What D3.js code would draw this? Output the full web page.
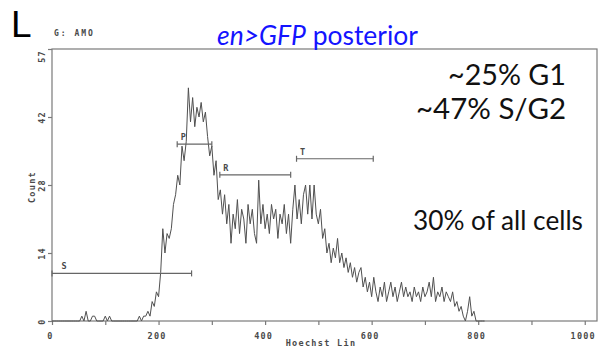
<!DOCTYPE html>
<html>
<head>
<meta charset="utf-8">
<script src="https://cdn.jsdelivr.net/npm/d3@7"></script>
<style>
  html, body { margin: 0; padding: 0; background: #fff; }
  svg { display: block; }
</style>
</head>
<body>
<svg id="chart" width="605" height="349"></svg>
<script>
// ---- Data ----
const binStart = 0;      // Hoechst Lin channel of first bin
const binWidth = 4;      // channels per bin
const counts = [
  0,0,0,0,0,0,0,0,0,0, 0,0,0,0,1,0,2,0,0,1,
  1,0,0,0,0,1,0,1,0,0, 0,0,0,0,0,0,0,0,0,0,
  0,1,0,1,1,2,1,4,3,6, 5,10,19,14,18,17,19,24,26,30,
  28,36,33,37,48,41,46,40,44,42, 45,41,43,38,34,36,30,33,25,27,
  22,26,20,24,16,22,19,25,18,23, 21,16,24,20,23,18,16,29,20,24,
  19,22,18,24,21,23,17,22,20,24, 18,22,16,23,28,21,25,20,26,28,
  22,28,21,28,22,20,23,17,19,14, 16,12,15,13,17,12,14,11,13,10,
  12,9,11,8,10,11,7,9,6,8, 5,9,6,4,7,5,8,4,6,8,
  5,7,4,6,8,5,7,5,6,4, 7,5,6,4,7,5,6,8,5,9,
  4,6,5,7,4,6,5,4,6,3, 4,2,3,1,0,2,5,1,2,0,
  0,0,0,0
];
const gateNames = ["S", "P", "R", "T"];
const gateStart = [0, 235, 315, 459];
const gateEnd   = [262, 300, 448, 603];
const gateLevel = [9.8, 36.4, 30.1, 33.4];
const xTicks = [0, 100, 200, 300, 400, 500, 600, 700, 800, 900, 1000];
const xLabelled = [0, 200, 400, 600, 800, 1000];
const yTicks = [0, 14, 28, 42, 57];
const panelLetter = "L";
const gateFile = "G: AMO";
const titleItalic = "en>GFP";
const titleRest = " posterior";
const statLines = ["~25% G1", "~47% S/G2"];
const noteText = "30% of all cells";
const xTitle = "Hoechst Lin";
const yTitle = "Count";

// ---- Layout ----
const svg = d3.select("#chart");
const L = 52, R = 597, T = 49, B = 321;
const x = d3.scaleLinear().domain([0, 1023]).range([L, R]);
const y = d3.scaleLinear().domain([0, 56]).range([B, T]).clamp(true);

const axisColor = "#7a7a7a";
const traceColor = "#505050";
const labelColor = "#4a4a4a";
const monoFont = "'DejaVu Sans Mono', monospace";

// frame
svg.append("rect")
  .attr("x", L).attr("y", T).attr("width", R - L).attr("height", B - T)
  .attr("fill", "none").attr("stroke", axisColor).attr("stroke-width", 1.2);

// x axis
const xAxis = d3.axisBottom(x).tickValues(xTicks).tickSize(4)
  .tickFormat(d => xLabelled.includes(d) ? d : "");
const gx = svg.append("g").attr("transform", `translate(0,${B})`).call(xAxis);
gx.select(".domain").remove();
gx.selectAll(".tick line").attr("stroke", axisColor).attr("stroke-width", 1.2);
gx.selectAll(".tick text")
  .attr("y", 11.5).attr("x", -2)
  .attr("fill", labelColor).attr("font-family", monoFont).attr("font-weight", "bold")
  .attr("font-size", 8.5).attr("letter-spacing", 1.2);

// y axis
const yAxis = d3.axisLeft(y).tickValues(yTicks).tickSize(4).tickFormat(d => d);
const gy = svg.append("g").attr("transform", `translate(${L},0)`).call(yAxis);
gy.select(".domain").remove();
gy.selectAll(".tick line").attr("stroke", axisColor).attr("stroke-width", 1.2);
gy.selectAll(".tick text")
  .attr("transform", "rotate(-90)")
  .attr("x", d => d === 57 ? -7 : 0).attr("y", -7).attr("dy", 0)
  .attr("text-anchor", "middle")
  .attr("fill", labelColor).attr("font-family", monoFont).attr("font-weight", "bold")
  .attr("font-size", 8.5).attr("letter-spacing", 1.2);

// axis titles
svg.append("text").text(xTitle)
  .attr("x", 321).attr("y", 346).attr("text-anchor", "middle")
  .attr("fill", labelColor).attr("font-family", monoFont).attr("font-weight", "bold")
  .attr("font-size", 8.5).attr("letter-spacing", 1.3);
svg.append("text").text(yTitle)
  .attr("transform", "translate(35,187) rotate(-90)").attr("text-anchor", "middle")
  .attr("fill", labelColor).attr("font-family", monoFont).attr("font-weight", "bold")
  .attr("font-size", 8.5).attr("letter-spacing", 1.3);

// histogram trace
const pts = counts.map((c, i) => [binStart + i * binWidth, c]);
svg.append("path").datum(pts)
  .attr("fill", "none").attr("stroke", traceColor).attr("stroke-width", 1)
  .attr("stroke-linejoin", "round")
  .attr("d", d3.line().x(d => x(d[0])).y(d => y(d[1])));

// gates
const gates = gateNames.map((n, i) => ({ n, a: gateStart[i], b: gateEnd[i], v: gateLevel[i] }));
const gg = svg.append("g").selectAll("g").data(gates).join("g");
gg.append("line")
  .attr("x1", d => x(d.a)).attr("x2", d => x(d.b))
  .attr("y1", d => y(d.v)).attr("y2", d => y(d.v))
  .attr("stroke", "#666").attr("stroke-width", 1.2);
gg.selectAll(".cap").data(d => [[d.a, d.v], [d.b, d.v]]).join("line")
  .attr("x1", d => x(d[0])).attr("x2", d => x(d[0]))
  .attr("y1", d => y(d[1]) - 3).attr("y2", d => y(d[1]) + 3)
  .attr("stroke", "#666").attr("stroke-width", 1.2);
gg.append("text").text(d => d.n)
  .attr("x", d => Math.max(x(d.a) + 6, x(0) + 12)).attr("y", d => y(d.v) - 4)
  .attr("text-anchor", "middle")
  .attr("fill", labelColor).attr("font-family", monoFont).attr("font-weight", "bold")
  .attr("font-size", 8.5);

// fit helper
function fit(sel, w) {
  const b = sel.node().getBBox().width;
  sel.attr("font-size", parseFloat(sel.attr("font-size")) * w / b);
}

// panel letter and file name
svg.append("text").text(panelLetter)
  .attr("x", 11).attr("y", 37)
  .attr("font-family", "'Liberation Sans', Arial, sans-serif").attr("font-size", 37)
  .attr("fill", "#000");
svg.append("text").text(gateFile)
  .attr("x", 54).attr("y", 36)
  .attr("fill", labelColor).attr("font-family", monoFont).attr("font-weight", "bold")
  .attr("font-size", 8).attr("letter-spacing", 2);

// title
const title = svg.append("text").attr("x", 217).attr("y", 44.5)
  .attr("fill", "#1414ff").attr("font-family", "Lato, 'Open Sans', sans-serif")
  .attr("font-size", 22);
title.append("tspan").attr("font-style", "italic").text(titleItalic);
title.append("tspan").style("white-space", "pre").text(titleRest);
fit(title, 201);

// stats
const stat1 = svg.append("text").text(statLines[0])
  .attr("x", 566).attr("y", 85).attr("text-anchor", "end")
  .attr("font-family", "Lato, 'Open Sans', sans-serif").attr("font-size", 25).attr("fill", "#111");
fit(stat1, 118);
const stat2 = svg.append("text").text(statLines[1])
  .attr("x", 566).attr("y", 118.5).attr("text-anchor", "end")
  .attr("font-family", "Lato, 'Open Sans', sans-serif").attr("font-size", 25).attr("fill", "#111");
fit(stat2, 150);
const note = svg.append("text").text(noteText)
  .attr("x", 413).attr("y", 229.5)
  .attr("font-family", "Lato, 'Open Sans', sans-serif").attr("font-size", 25).attr("fill", "#111");
fit(note, 170);
</script>
</body>
</html>
